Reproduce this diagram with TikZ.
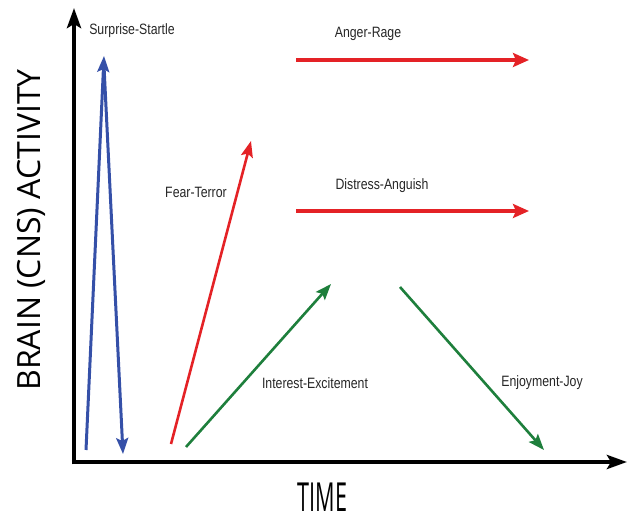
\documentclass[tikz,border=0pt]{standalone}
\usepackage{fontspec}
\usetikzlibrary{arrows.meta}
\newfontfamily\labfont[FakeStretch=0.82]{Liberation Sans}
\newfontfamily\axfont{Open Sans}
\newfontfamily\timefont[FakeStretch=0.54]{Open Sans}
\definecolor{cblue}{HTML}{3550A8}
\definecolor{cred}{HTML}{E42226}
\definecolor{cgreen}{HTML}{1E7F3C}
\tikzset{
  axisline/.style={line width=4.5pt, -{Stealth[length=20pt,width=14pt,inset=4pt]}},
  emo/.style={line width=2.6pt, -{Stealth[length=16pt,width=12pt,inset=3pt]}},
  emothick/.style={line width=3.8pt, -{Stealth[length=16pt,width=14pt,inset=3pt]}},
  lab/.style={font=\labfont\fontsize{15}{16}\selectfont, inner sep=0pt, text=black!85}
}
\begin{document}
\begin{tikzpicture}[x=1pt,y=-1pt]
\useasboundingbox (0,0) rectangle (627,521);
% axes
\coordinate (O) at (74,462);
\coordinate (ytop) at (74,8);
\coordinate (xend) at (627,462);
\draw[axisline] (74,464.25) -- (ytop);
\draw[axisline] (71.75,462) -- (xend);
\node[font=\axfont\fontsize{32}{34}\selectfont, rotate=90, inner sep=0pt] (ylab) at (31,230) {BRAIN (CNS) ACTIVITY};
\node[font=\timefont\fontsize{40}{42}\selectfont, inner sep=0pt] (xlab) at (322.5,497) {TIME};
% surprise-startle
\coordinate (s1) at (86,450);
\coordinate (s2) at (104,56);
\coordinate (s3) at (104,66);
\coordinate (s4) at (123,454);
\draw[emo, cblue, line width=3pt] (s1) -- (s2);
\draw[emo, cblue, line width=3pt] (s3) -- (s4);
\node[lab] (surprise) at (132,31) {Surprise-Startle};
% fear-terror
\coordinate (f1) at (171,444);
\coordinate (f2) at (251,141);
\draw[emo, cred] (f1) -- (f2);
\node[lab] (fear) at (196,192) {Fear-Terror};
% anger-rage
\coordinate (a1) at (296,60);
\coordinate (a2) at (529,60);
\draw[emothick, cred] (a1) -- (a2);
\node[lab] (anger) at (368,34) {Anger-Rage};
% distress-anguish
\coordinate (d1) at (296,211);
\coordinate (d2) at (529,211);
\draw[emothick, cred] (d1) -- (d2);
\node[lab] (distress) at (382,186) {Distress-Anguish};
% interest-excitement
\coordinate (i1) at (186,447);
\coordinate (i2) at (331,284);
\draw[emo, cgreen] (i1) -- (i2);
\node[lab] (interest) at (315,383) {Interest-Excitement};
% enjoyment-joy
\coordinate (j1) at (400,287);
\coordinate (j2) at (544,450);
\draw[emo, cgreen] (j1) -- (j2);
\node[lab] (joy) at (542,383) {Enjoyment-Joy};
\end{tikzpicture}
\end{document}
